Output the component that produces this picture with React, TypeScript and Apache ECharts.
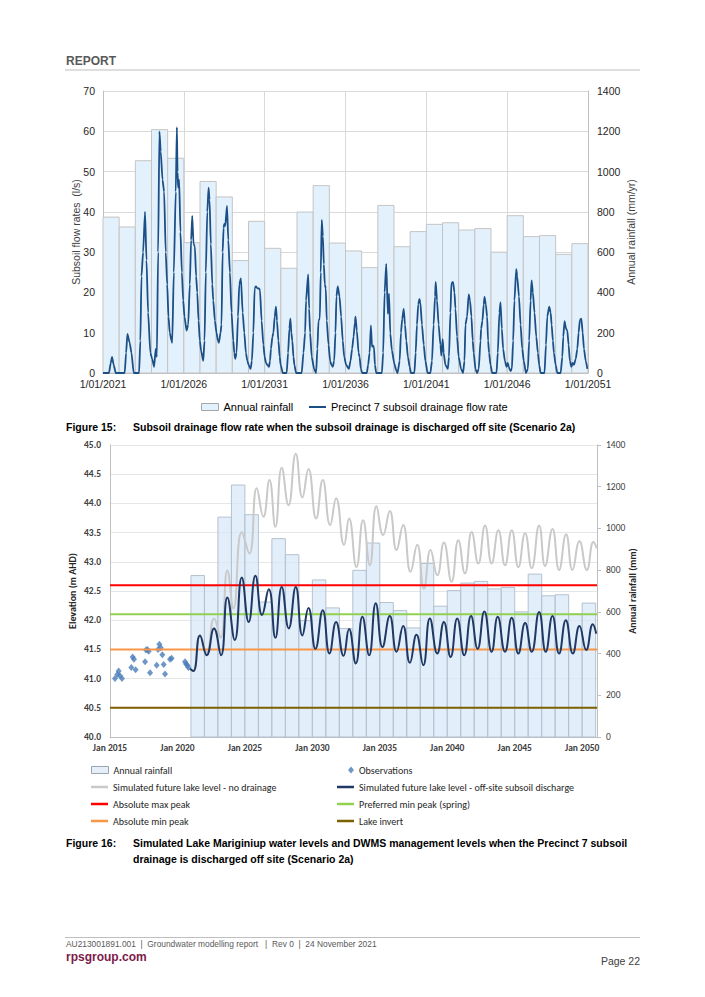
import React, { useEffect, useRef } from "react";
import * as echarts from "echarts";

// ---------- DATA ----------
const RAIN_YEARS = [2021, 2022, 2023, 2024, 2025, 2026, 2027, 2028, 2029, 2030, 2031, 2032, 2033, 2034, 2035, 2036, 2037, 2038, 2039, 2040, 2041, 2042, 2043, 2044, 2045, 2046, 2047, 2048, 2049, 2050];
const ANNUAL_RAINFALL = [774, 725, 1054, 1208, 1066, 647, 951, 874, 558, 753, 619, 520, 799, 930, 645, 606, 523, 832, 627, 702, 738, 746, 710, 717, 600, 781, 677, 682, 589, 642];

// top chart x ticks: years from 1/01/2021
const FLOW_START_YEAR = 2021;
const FLOW_TICK_YEARS = [2021, 2026, 2031, 2036, 2041, 2046, 2051];
// [years since 1/01/2021, subsoil flow l/s]
const FLOW_RATE: [number, number][] = [
  [0, 0], [0.37, 0], [0.48, 2.5], [0.56, 4], [0.66, 2], [0.79, 0],
  [1.34, 0], [1.43, 5], [1.51, 9.7], [1.65, 7.5], [1.76, 5], [1.9, 0],
  [2.23, 0], [2.31, 8], [2.38, 24], [2.48, 30], [2.6, 40], [2.69, 28], [2.79, 15], [2.93, 5], [3.04, 3.5], [3.16, 1.5], [3.26, 6], [3.33, 4],
  [3.41, 30], [3.49, 60], [3.57, 55], [3.68, 48], [3.78, 45], [3.88, 30], [3.97, 22], [4.05, 14], [4.13, 10], [4.24, 8], [4.28, 7.5],
  [4.38, 25], [4.5, 45], [4.57, 61], [4.61, 50], [4.65, 46], [4.71, 48], [4.79, 35], [4.88, 25], [4.96, 18], [5.04, 14], [5.17, 10.5], [5.27, 12],
  [5.37, 22], [5.45, 33], [5.52, 39], [5.6, 32], [5.68, 31.5], [5.76, 24], [5.83, 20], [5.91, 13], [5.99, 8], [6.07, 5.5], [6.2, 3],
  [6.28, 8], [6.36, 25], [6.45, 40], [6.53, 46], [6.59, 43], [6.67, 32], [6.76, 22], [6.82, 18], [6.92, 13], [7.02, 10], [7.11, 8], [7.17, 7.5],
  [7.27, 10], [7.33, 12], [7.4, 30], [7.46, 36], [7.5, 37], [7.56, 36.5], [7.67, 41.5], [7.75, 33], [7.85, 25], [7.95, 15], [8.06, 8], [8.12, 5], [8.18, 3.5],
  [8.26, 5], [8.35, 14], [8.43, 22], [8.53, 23.5], [8.64, 15], [8.74, 10], [8.84, 5], [8.93, 3], [9.01, 2], [9.07, 1.5], [9.13, 1],
  [9.21, 3], [9.3, 10], [9.38, 21], [9.46, 21.5], [9.55, 21], [9.65, 21], [9.71, 20.5], [9.81, 13], [9.92, 7], [10.0, 4], [10.08, 2.5], [10.17, 2], [10.27, 1.5],
  [10.33, 3], [10.39, 6], [10.48, 9], [10.54, 10], [10.62, 14], [10.7, 16.5], [10.76, 13], [10.85, 8], [10.93, 4], [10.99, 2], [11.12, 0],
  [11.36, 0], [11.45, 5], [11.53, 11], [11.59, 13.5], [11.65, 10], [11.71, 8], [11.78, 4], [11.84, 2], [11.94, 0],
  [12.29, 0], [12.4, 5], [12.5, 10], [12.56, 18], [12.69, 24.5], [12.75, 16], [12.81, 10], [12.91, 4], [13.06, 1], [13.18, 0],
  [13.26, 6], [13.33, 13], [13.41, 13.5], [13.47, 25], [13.53, 38], [13.6, 34], [13.66, 27], [13.72, 22], [13.78, 21], [13.84, 13], [13.95, 7], [14.05, 3], [14.13, 2], [14.21, 1.5],
  [14.3, 3], [14.38, 10], [14.44, 19], [14.52, 21.5], [14.63, 19], [14.73, 14], [14.83, 8], [14.92, 4], [15.04, 2], [15.21, 1],
  [15.31, 3], [15.41, 6], [15.5, 9], [15.58, 12.5], [15.62, 14], [15.7, 10.5], [15.81, 5], [15.87, 4], [15.95, 1], [16.03, 0],
  [16.32, 0], [16.4, 2], [16.49, 5], [16.57, 11.8], [16.64, 6.5], [16.7, 6.8], [16.76, 6.5], [16.82, 2], [16.9, 0],
  [17.25, 0], [17.33, 5], [17.42, 20], [17.52, 27.1], [17.62, 14.7], [17.69, 19.7], [17.77, 9.8], [17.87, 5.6], [18.02, 2.3], [18.14, 0.7],
  [18.22, 0], [18.35, 3], [18.43, 10], [18.51, 13.5], [18.6, 15.9], [18.68, 12], [18.76, 8], [18.86, 4], [18.97, 1.5], [19.05, 0],
  [19.26, 0], [19.34, 5], [19.42, 12], [19.5, 17], [19.57, 18.4], [19.63, 17.5], [19.73, 12], [19.84, 7], [19.94, 3], [20.08, 0],
  [20.25, 0], [20.35, 3], [20.45, 12], [20.54, 19], [20.58, 22.6], [20.66, 18], [20.76, 12], [20.87, 7], [20.93, 4.3], [21.01, 8.4], [21.07, 5], [21.18, 2], [21.33, 1],
  [21.4, 4], [21.49, 15], [21.55, 22.3], [21.65, 22.6], [21.74, 20], [21.8, 16], [21.9, 9], [22.0, 4], [22.15, 1], [22.27, 0],
  [22.36, 3], [22.42, 12], [22.52, 14], [22.62, 19.5], [22.7, 18], [22.79, 14], [22.87, 8], [22.93, 5], [23.04, 1], [23.14, 0],
  [23.24, 1], [23.35, 8], [23.39, 11], [23.47, 13], [23.55, 17], [23.6, 18.9], [23.68, 17], [23.76, 14], [23.82, 8], [23.88, 5], [23.97, 2], [24.07, 0],
  [24.34, 0], [24.42, 5], [24.52, 15], [24.59, 17.5], [24.67, 11], [24.75, 6], [24.86, 3], [24.96, 1.5], [25.04, 2.5], [25.1, 1.5], [25.21, 0.5],
  [25.29, 1], [25.37, 8], [25.45, 18], [25.56, 25.8], [25.62, 24], [25.73, 19], [25.83, 12], [25.93, 6], [26.03, 3], [26.16, 0],
  [26.28, 1], [26.36, 8], [26.45, 18], [26.51, 23], [26.59, 20], [26.69, 15], [26.8, 9], [26.9, 5], [26.98, 2], [27.07, 0],
  [27.31, 0], [27.4, 7], [27.48, 14], [27.6, 16.5], [27.69, 15], [27.75, 12], [27.83, 8], [27.89, 5], [28.0, 2], [28.1, 0],
  [28.31, 0], [28.41, 4], [28.47, 9], [28.55, 12.9], [28.64, 11], [28.72, 10.5], [28.8, 7], [28.88, 3], [28.97, 1.5], [29.05, 2.5], [29.13, 2],
  [29.24, 3.5], [29.34, 6], [29.42, 10], [29.5, 13.2], [29.59, 13.5], [29.67, 10], [29.75, 6], [29.86, 3], [29.96, 1]
];

// bottom chart: x = years since Jan 2015
const LEVEL_START_YEAR = 2015;
const LEVEL_X_END = 36.1;
const OBSERVATIONS: [number, number][] = [
  [0.37, 41.0], [0.54, 41.07], [0.64, 41.13], [0.74, 41.05], [0.89, 41.0],
  [1.58, 41.19], [1.68, 41.37], [1.78, 41.33], [1.9, 41.15],
  [2.6, 41.29], [2.67, 41.49], [2.77, 41.5], [2.87, 41.47], [2.97, 41.1],
  [3.46, 41.23], [3.56, 41.5], [3.66, 41.59], [3.76, 41.53], [3.88, 41.41], [3.98, 41.24], [4.08, 41.08],
  [4.45, 41.33], [4.57, 41.35],
  [5.56, 41.29], [5.64, 41.25], [5.74, 41.23], [5.81, 41.19]
];
const LEVEL_NO_DRAINAGE: [number, number][] = [
  [5.93, 41.17], [6.18, 41.13], [6.67, 41.74], [7.17, 41.45], [7.71, 42.03], [8.2, 41.7], [8.7, 42.85], [9.15, 42.2],
  [9.77, 43.51], [10.33, 43.14], [10.88, 44.26], [11.37, 43.77], [11.82, 44.4], [12.26, 43.6], [12.73, 44.61], [13.23, 43.97],
  [13.77, 44.85], [14.26, 44.1], [14.71, 44.59], [15.28, 43.74], [15.77, 44.4], [16.32, 43.63], [16.76, 44.09], [17.35, 43.29],
  [17.72, 43.74], [18.27, 42.91], [18.76, 43.71], [19.26, 42.94], [19.75, 43.95], [20.25, 43.46], [20.74, 43.87], [21.24, 43.2],
  [21.73, 43.63], [22.28, 42.83], [22.77, 43.29], [23.27, 42.54], [23.76, 43.2], [24.26, 42.77], [24.75, 43.33], [25.32, 42.66],
  [25.82, 43.37], [26.31, 42.8], [26.81, 43.51], [27.3, 42.97], [27.8, 43.62], [28.29, 42.97], [28.79, 43.54], [29.28, 42.94],
  [29.78, 43.54], [30.27, 42.91], [30.77, 43.49], [31.26, 42.89], [31.81, 43.62], [32.25, 42.93], [32.8, 43.56], [33.29, 42.86],
  [33.81, 43.47], [34.28, 42.86], [34.8, 43.35], [35.35, 42.86], [35.84, 43.34], [36.09, 43.23]
];
const LEVEL_OFFSITE: [number, number][] = [
  [5.93, 41.17], [6.18, 41.13], [6.67, 41.74], [7.17, 41.4], [7.71, 41.86], [8.23, 41.4], [8.7, 42.39], [9.25, 41.66],
  [9.77, 42.73], [10.28, 41.97], [10.78, 42.76], [11.27, 42.09], [11.77, 42.53], [12.26, 41.7], [12.73, 42.57], [13.25, 41.86],
  [13.77, 42.57], [14.26, 41.74], [14.71, 42.21], [15.23, 41.51], [15.77, 42.17], [16.27, 41.43], [16.76, 41.97], [17.31, 41.39],
  [17.72, 41.85], [18.22, 41.26], [18.71, 42.06], [19.21, 41.4], [19.7, 42.29], [20.2, 41.54], [20.74, 42.07], [21.24, 41.46],
  [21.73, 41.9], [22.23, 41.27], [22.72, 41.75], [23.22, 41.23], [23.71, 42.03], [24.26, 41.43], [24.75, 41.97], [25.25, 41.37],
  [25.74, 42.03], [26.26, 41.4], [26.76, 42.07], [27.25, 41.51], [27.75, 42.15], [28.29, 41.46], [28.74, 42.06], [29.28, 41.46],
  [29.78, 42.04], [30.27, 41.43], [30.77, 41.95], [31.26, 41.46], [31.81, 42.14], [32.3, 41.46], [32.8, 42.07], [33.29, 41.43],
  [33.79, 42.0], [34.31, 41.43], [34.8, 41.9], [35.3, 41.49], [35.79, 41.93], [36.04, 41.77]
];
const ABSOLUTE_MAX_PEAK = 42.6;
const PREFERRED_MIN_PEAK = 42.1;
const ABSOLUTE_MIN_PEAK = 41.5;
const LAKE_INVERT = 40.5;

// ---------- STYLE ----------
const ARIAL = "'Liberation Sans', Arial, sans-serif";
const CALI = "Carlito, Lato, sans-serif";
const NAVY_TOP = "#1b4f86";
const NAVY = "#1f3864";
const GREY_LINE = "#c9c9c9";
const RED = "#ff0000";
const GREEN = "#92d050";
const ORANGE = "#f79646";
const OLIVE = "#7f6000";
const OBS_BLUE = "#4a7dba";

function rainBars(name: string, xAxisIndex: number, yAxisIndex: number, startYear: number, fill: string, stroke: string) {
  const data = RAIN_YEARS.map((y, i) => [y - startYear, y - startYear + 1, ANNUAL_RAINFALL[i]]);
  return {
    type: "custom",
    name,
    xAxisIndex,
    yAxisIndex,
    silent: true,
    z: 1,
    itemStyle: { color: fill, borderColor: stroke },
    encode: { x: [0, 1], y: 2 },
    data,
    renderItem: (params: any, api: any) => {
      const p0 = api.coord([api.value(0), api.value(2)]);
      const p1 = api.coord([api.value(1), 0]);
      return {
        type: "rect",
        shape: { x: p0[0], y: p0[1], width: p1[0] - p0[0], height: p1[1] - p0[1] },
        style: { fill, stroke, lineWidth: 1 },
      };
    },
  };
}

function refLine(name: string, value: number, color: string, z: number) {
  return {
    type: "line",
    name,
    xAxisIndex: 1,
    yAxisIndex: 2,
    symbol: "none",
    silent: true,
    z,
    lineStyle: { color, width: 2 },
    itemStyle: { color },
    data: [[0, value], [LEVEL_X_END, value]],
  };
}

function legendItem(name: string, left: number, top: number, opts: any) {
  return {
    left,
    top,
    padding: 0,
    orient: "horizontal",
    selectedMode: false,
    itemWidth: opts.itemWidth ?? 17,
    itemHeight: opts.itemHeight ?? 2.5,
    icon: opts.icon ?? "rect",
    data: [{ name, icon: opts.icon ?? "rect", itemStyle: opts.itemStyle }],
    textStyle: {
      fontFamily: opts.font ?? CALI,
      fontSize: opts.fontSize ?? 10,
      color: opts.color ?? "#262626",
      lineHeight: 12,
    },
  };
}

const plainNumber = (v: number) => String(v);

export default function App() {
  const ref = useRef<HTMLDivElement>(null);
  useEffect(() => {
    if (!ref.current) return;
    const chart = echarts.init(ref.current, undefined, { renderer: "svg" });
    const option: any = {
      animation: false,
      backgroundColor: "#ffffff",
      grid: [
        { left: 103, top: 91, width: 485, height: 282 },
        { left: 110, top: 445, width: 487, height: 292 },
      ],
      xAxis: [
        {
          type: "value", gridIndex: 0, min: 0, max: 30, interval: 5,
          axisLine: { show: true, lineStyle: { color: "#bfbfbf" } },
          axisTick: { show: false },
          splitLine: { show: true, lineStyle: { color: "#d9d9d9" } },
          axisLabel: {
            margin: 5, color: "#262626", fontFamily: ARIAL, fontSize: 10.5,
            formatter: (v: number) => (FLOW_TICK_YEARS.includes(FLOW_START_YEAR + v) ? "1/01/" + (FLOW_START_YEAR + v) : ""),
          },
        },
        {
          type: "value", gridIndex: 1, min: 0, max: LEVEL_X_END, interval: 5,
          axisLine: { show: true, lineStyle: { color: "#bfbfbf" } },
          axisTick: { show: false },
          splitLine: { show: false },
          axisLabel: {
            margin: 6, color: "#404040", fontFamily: CALI, fontSize: 9.5, fontWeight: "bold", showMaxLabel: false,
            formatter: (v: number) => (Math.abs(v % 5) < 1e-6 ? "Jan " + (LEVEL_START_YEAR + v) : ""),
          },
        },
      ],
      yAxis: [
        {
          type: "value", gridIndex: 0, position: "left", min: 0, max: 70, interval: 10,
          name: "Subsoil flow rates  (l/s)", nameLocation: "middle", nameGap: 22, nameMoveOverlap: false,
          nameTextStyle: { color: "#404040", fontFamily: ARIAL, fontSize: 10.5 },
          axisLine: { show: true, lineStyle: { color: "#bfbfbf" } },
          axisTick: { show: false },
          splitLine: { show: true, lineStyle: { color: "#d9d9d9" } },
          axisLabel: { margin: 8, color: "#262626", fontFamily: ARIAL, fontSize: 10.5, formatter: plainNumber },
        },
        {
          type: "value", gridIndex: 0, position: "right", min: 0, max: 1400, interval: 200,
          name: "Annual rainfall (mm/yr)", nameLocation: "middle", nameGap: 37, nameMoveOverlap: false,
          nameTextStyle: { color: "#404040", fontFamily: ARIAL, fontSize: 10.5 },
          axisLine: { show: true, lineStyle: { color: "#bfbfbf" } },
          axisTick: { show: false },
          splitLine: { show: false },
          axisLabel: { margin: 9, color: "#262626", fontFamily: ARIAL, fontSize: 10.5, formatter: plainNumber },
        },
        {
          type: "value", gridIndex: 1, position: "left", min: 40, max: 45, interval: 0.5,
          name: "Elevation (m AHD)", nameLocation: "middle", nameGap: 33, nameMoveOverlap: false,
          nameTextStyle: { color: "#262626", fontFamily: CALI, fontSize: 10, fontWeight: "bold" },
          axisLine: { show: true, lineStyle: { color: "#bfbfbf" } },
          axisTick: { show: false },
          splitLine: { show: true, lineStyle: { color: "#e6e6e6" } },
          axisLabel: {
            margin: 9, color: "#404040", fontFamily: CALI, fontSize: 9.5, fontWeight: "bold",
            formatter: (v: number) => v.toFixed(1),
          },
        },
        {
          type: "value", gridIndex: 1, position: "right", min: 0, max: 1400, interval: 200,
          name: "Annual rainfall (mm)", nameLocation: "middle", nameGap: 30, nameMoveOverlap: false,
          nameTextStyle: { color: "#262626", fontFamily: CALI, fontSize: 10, fontWeight: "bold" },
          axisLine: { show: true, lineStyle: { color: "#bfbfbf" } },
          axisTick: { show: true, length: 4, lineStyle: { color: "#bfbfbf" } },
          splitLine: { show: false },
          axisLabel: { margin: 9, color: "#404040", fontFamily: CALI, fontSize: 9.5, formatter: plainNumber },
        },
      ],
      legend: [
        legendItem("Annual rainfall", 201, 401, {
          itemHeight: 7, font: ARIAL, fontSize: 11, color: "#000",
          itemStyle: { color: "#e3f1fd", borderColor: "#a6a6a6", borderWidth: 1 },
        }),
        legendItem("Precinct 7 subsoil drainage flow rate", 309, 401, {
          itemHeight: 2, font: ARIAL, fontSize: 11, color: "#000",
          itemStyle: { color: NAVY_TOP, borderWidth: 0 },
        }),
        legendItem("Annual rainfall", 91, 764, {
          itemHeight: 7, itemStyle: { color: "#e6eef8", borderColor: "#9aa6b4", borderWidth: 1 },
        }),
        legendItem("Simulated future lake level - no drainage", 91, 781, { itemStyle: { color: GREY_LINE, borderWidth: 0 } }),
        legendItem("Absolute max peak", 91, 798, { itemStyle: { color: RED, borderWidth: 0 } }),
        legendItem("Absolute min peak", 91, 815, { itemStyle: { color: ORANGE, borderWidth: 0 } }),
        legendItem("Observations", 348, 764, {
          icon: "diamond", itemWidth: 6, itemHeight: 7, itemStyle: { color: OBS_BLUE, borderWidth: 0 },
        }),
        legendItem("Simulated future lake level - off-site subsoil discharge", 337, 781, { itemStyle: { color: NAVY, borderWidth: 0 } }),
        legendItem("Preferred min peak (spring)", 337, 798, { itemStyle: { color: GREEN, borderWidth: 0 } }),
        legendItem("Lake invert", 337, 815, { itemStyle: { color: OLIVE, borderWidth: 0 } }),
      ],
      series: [
        rainBars("Annual rainfall", 0, 1, FLOW_START_YEAR, "#e3f1fd", "#c4c4c4"),
        {
          type: "line", name: "Precinct 7 subsoil drainage flow rate", xAxisIndex: 0, yAxisIndex: 0,
          symbol: "none", silent: true, z: 3, smooth: 0.2, smoothMonotone: "x",
          lineStyle: { color: NAVY_TOP, width: 1.8 }, itemStyle: { color: NAVY_TOP },
          data: FLOW_RATE,
        },
        rainBars("Annual rainfall", 1, 3, LEVEL_START_YEAR, "rgba(213,232,249,0.7)", "#b3c1cf"),
        {
          type: "line", name: "Simulated future lake level - no drainage", xAxisIndex: 1, yAxisIndex: 2,
          symbol: "none", silent: true, z: 3, smooth: 0.5,
          lineStyle: { color: GREY_LINE, width: 2 }, itemStyle: { color: GREY_LINE },
          data: LEVEL_NO_DRAINAGE,
        },
        {
          type: "scatter", name: "Observations", xAxisIndex: 1, yAxisIndex: 2, silent: true, z: 4,
          symbol: "diamond", symbolSize: [6, 7], itemStyle: { color: OBS_BLUE },
          data: OBSERVATIONS,
        },
        refLine("Absolute max peak", ABSOLUTE_MAX_PEAK, RED, 5),
        refLine("Preferred min peak (spring)", PREFERRED_MIN_PEAK, GREEN, 5),
        refLine("Absolute min peak", ABSOLUTE_MIN_PEAK, ORANGE, 5),
        refLine("Lake invert", LAKE_INVERT, OLIVE, 5),
        {
          type: "line", name: "Simulated future lake level - off-site subsoil discharge", xAxisIndex: 1, yAxisIndex: 2,
          symbol: "none", silent: true, z: 6, smooth: 0.5,
          lineStyle: { color: NAVY, width: 2 }, itemStyle: { color: NAVY },
          data: LEVEL_OFFSITE,
        },
      ],
      graphic: [
        { type: "text", left: 66, top: 55, style: { text: "REPORT", fill: "#595959", font: "bold 12px " + ARIAL } },
        { type: "line", shape: { x1: 65, y1: 70, x2: 640, y2: 70 }, style: { stroke: "#bfbfbf", lineWidth: 1 } },
        { type: "text", left: 66, top: 421, style: { text: "Figure 15:", fill: "#000", font: "bold 10.5px " + ARIAL } },
        { type: "text", left: 133, top: 421, style: { text: "Subsoil drainage flow rate when the subsoil drainage is discharged off site (Scenario 2a)", fill: "#000", font: "bold 10.5px " + ARIAL } },
        { type: "text", left: 66, top: 837, style: { text: "Figure 16:", fill: "#000", font: "bold 10.5px " + ARIAL } },
        { type: "text", left: 133, top: 837, style: { text: "Simulated Lake Mariginiup water levels and DWMS management levels when the Precinct 7 subsoil", fill: "#000", font: "bold 10.5px " + ARIAL } },
        { type: "text", left: 133, top: 853, style: { text: "drainage is discharged off site (Scenario 2a)", fill: "#000", font: "bold 10.5px " + ARIAL } },
        { type: "line", shape: { x1: 65, y1: 937.5, x2: 640, y2: 937.5 }, style: { stroke: "#bfbfbf", lineWidth: 1 } },
        { type: "text", left: 66, top: 940, style: { text: "AU213001891.001  |  Groundwater modelling report   |  Rev 0  |  24 November 2021", fill: "#595959", font: "8.4px " + ARIAL } },
        { type: "text", left: 66, top: 951, style: { text: "rpsgroup.com", fill: "#7d1a4a", font: "bold 12px " + ARIAL } },
        { type: "text", right: 65, top: 955, style: { text: "Page 22", fill: "#404040", font: "10.5px " + ARIAL } },
      ],
    };
    chart.setOption(option);
    return () => chart.dispose();
  }, []);
  return (
    <div style={{ position: "absolute", left: 0, top: 0, width: 705, height: 997, background: "#fff" }}>
      <div ref={ref} style={{ width: 705, height: 997 }} />
    </div>
  );
}
